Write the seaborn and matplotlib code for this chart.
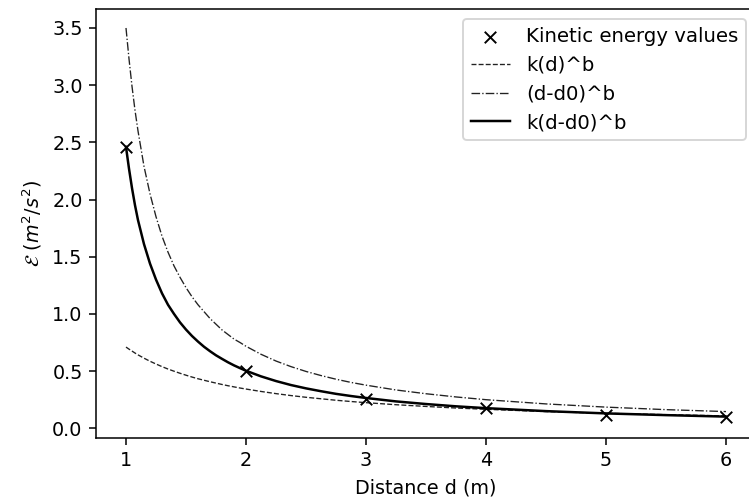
import matplotlib
matplotlib.use("Agg")
import matplotlib.pyplot as plt
import seaborn as sns

# measured kinetic energy points
distance = [1, 2, 3, 4, 5, 6]
energy = [2.46, 0.50, 0.26, 0.175, 0.116, 0.10]

# fitted curves, values
d_fit = [1.0, 1.025, 1.05, 1.075, 1.1, 1.15, 1.2, 1.25, 1.3, 1.35, 1.4, 1.45,
         1.5, 1.55, 1.6, 1.65, 1.7, 1.75, 1.8, 1.85, 1.9, 1.95, 2.0, 2.125,
         2.25, 2.375, 2.5, 2.625, 2.75, 2.875, 3.0, 3.25, 3.5, 3.75, 4.0, 4.5,
         5.0, 5.5, 6.0]
fit_kd = [0.71, 0.692, 0.675, 0.658, 0.642, 0.613, 0.586, 0.562, 0.539, 0.518,
          0.499, 0.481, 0.464, 0.448, 0.433, 0.420, 0.407, 0.395, 0.383, 0.372,
          0.362, 0.352, 0.343, 0.322, 0.303, 0.286, 0.271, 0.258, 0.245, 0.234,
          0.224, 0.206, 0.191, 0.177, 0.166, 0.146, 0.131, 0.119, 0.108]
fit_dd0 = [3.50, 3.23, 2.99, 2.78, 2.60, 2.29, 2.05, 1.85, 1.68, 1.54, 1.42,
           1.32, 1.23, 1.15, 1.08, 1.02, 0.96, 0.91, 0.86, 0.82, 0.78, 0.75,
           0.717, 0.647, 0.588, 0.539, 0.497, 0.461, 0.429, 0.401, 0.377,
           0.335, 0.302, 0.274, 0.250, 0.213, 0.185, 0.163, 0.146]
fit_kdd0 = [2.46, 2.27, 2.10, 1.95, 1.82, 1.61, 1.44, 1.30, 1.18, 1.08, 1.00,
            0.926, 0.863, 0.807, 0.758, 0.713, 0.674, 0.638, 0.607, 0.577,
            0.550, 0.526, 0.503, 0.454, 0.413, 0.378, 0.349, 0.324, 0.301,
            0.282, 0.265, 0.235, 0.212, 0.192, 0.176, 0.150, 0.130, 0.115,
            0.102]

dpi = 138
fig = plt.figure(figsize=(749 / dpi, 499 / dpi), dpi=dpi)
ax = fig.add_axes([96 / 749, 61 / 499, 660 / 749, 429 / 499])

sns.scatterplot(x=distance, y=energy, ax=ax, marker="x", color="k", s=36,
                linewidth=1, label="Kinetic energy values", zorder=3)
sns.lineplot(x=d_fit, y=fit_kd, ax=ax, color="#222222", lw=0.7,
             linestyle="--", label="k(d)^b")
sns.lineplot(x=d_fit, y=fit_dd0, ax=ax, color="#222222", lw=0.7,
             linestyle="-.", label="(d-d0)^b")
sns.lineplot(x=d_fit, y=fit_kdd0, ax=ax, color="k", lw=1.3, linestyle="-",
             label="k(d-d0)^b")

ax.set_xlim(0.75, 6.25)
ax.set_ylim(-0.085, 3.666)
ax.set_xlabel("Distance d (m)")
ax.set_ylabel(r"$\mathcal{E}$ $(m^2/s^2)$")
ax.legend(loc="upper right", fontsize=10.3)

fig.savefig("out.png", dpi=dpi)
